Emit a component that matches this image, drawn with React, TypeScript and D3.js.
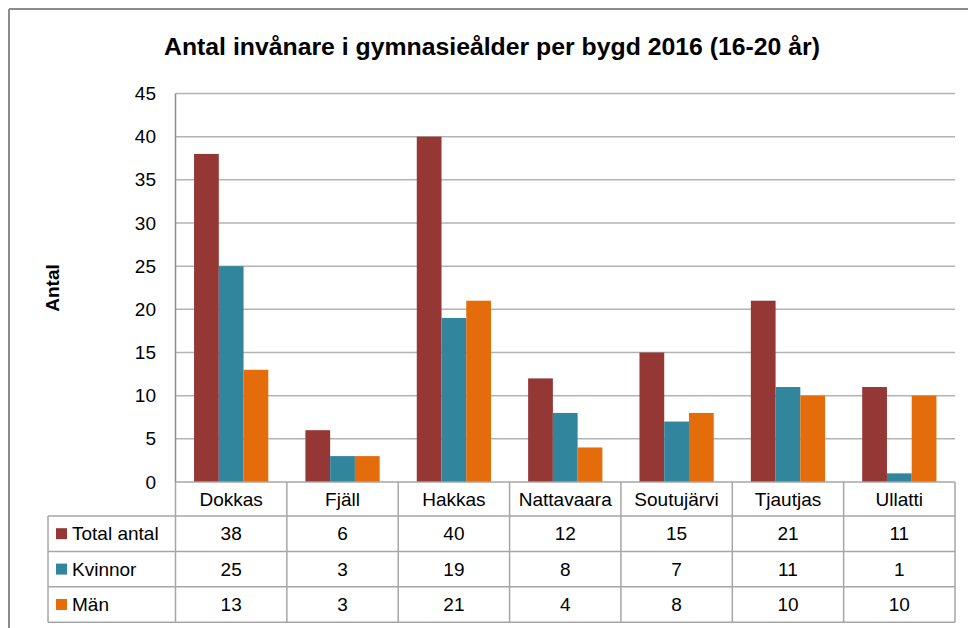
import React from "react";
import * as d3 from "d3";

const categories = ["Dokkas", "Fjäll", "Hakkas", "Nattavaara", "Soutujärvi", "Tjautjas", "Ullatti"];
const seriesNames = ["Total antal", "Kvinnor", "Män"];
const totalValues = [38, 6, 40, 12, 15, 21, 11];
const womenValues = [25, 3, 19, 8, 7, 11, 1];
const menValues = [13, 3, 21, 4, 8, 10, 10];
const yTicks = [0, 5, 10, 15, 20, 25, 30, 35, 40, 45];
const colors = ["#953735", "#31859C", "#E46C0A"];

const title = "Antal invånare i gymnasieålder per bygd 2016 (16-20 år)";
const yAxisTitle = "Antal";

export default function App() {
  const W = 968;
  const H = 628;
  const left = 175.5;
  const right = 955;
  const top = 93.5;
  const bottom = 482;
  const rowH = 35.4;
  const tableLeft = 48;
  const catRowBottom = 516;
  const font = "'Liberation Sans', Arial, sans-serif";
  const fs = 19;
  const series = [totalValues, womenValues, menValues];

  const x = d3.scaleBand<string>().domain(categories).range([left, right]).paddingInner(0).paddingOuter(0);
  const bw = x.bandwidth();
  const inner = d3
    .scaleBand<number>()
    .domain([0, 1, 2])
    .range([bw / 6, bw - bw / 6])
    .padding(0);
  const y = d3.scaleLinear().domain([0, 45]).range([bottom, top]);

  const rowY = (i: number) => catRowBottom + i * rowH;

  return (
    <svg width={W} height={H} style={{ position: "absolute", left: 0, top: 0, background: "#fff" }}>
      <rect x={0} y={0} width={W} height={H} fill="#fff" />
      {/* outer border */}
      <line x1={9} y1={9} x2={W} y2={9} stroke="#8c8c8c" strokeWidth={2} />
      <line x1={9} y1={9} x2={9} y2={H} stroke="#8c8c8c" strokeWidth={2} />

      <text
        x={164}
        y={55}
        textLength={656}
        lengthAdjust="spacingAndGlyphs"
        fontFamily={font}
        fontWeight="bold"
        fontSize={23}
        fill="#000"
      >
        {title}
      </text>

      {/* gridlines */}
      {yTicks.filter((t) => t > 0).map((t) => (
        <line key={t} x1={left} x2={right} y1={y(t)} y2={y(t)} stroke="#b3b3b3" strokeWidth={1.5} />
      ))}
      {/* y tick labels */}
      {yTicks.map((t) => (
        <text key={"l" + t} x={156} y={y(t)} dy="0.35em" textAnchor="end" fontFamily={font} fontSize={fs} fill="#000">
          {t}
        </text>
      ))}
      <text
        transform={`translate(52,288) rotate(-90)`}
        textAnchor="middle"
        dy="0.35em"
        fontFamily={font}
        fontWeight="bold"
        fontSize={fs}
        fill="#000"
      >
        {yAxisTitle}
      </text>

      {/* bars */}
      {categories.map((c, ci) => (
        <g key={c}>
          {series.map((vals, si) => (
            <rect
              key={si}
              x={(x(c) as number) + (inner(si) as number)}
              y={y(vals[ci])}
              width={inner.bandwidth()}
              height={bottom - y(vals[ci])}
              fill={colors[si]}
            />
          ))}
        </g>
      ))}

      {/* left axis line */}
      <line x1={left} x2={left} y1={top} y2={bottom} stroke="#8c8c8c" strokeWidth={1.5} />

      {/* data table lines */}
      <line x1={left} x2={right} y1={bottom} y2={bottom} stroke="#a6a6a6" strokeWidth={1.5} />
      {[0, 1, 2, 3].map((i) => (
        <line key={"h" + i} x1={tableLeft} x2={right} y1={rowY(i)} y2={rowY(i)} stroke="#a6a6a6" strokeWidth={1.5} />
      ))}
      <line x1={tableLeft} x2={tableLeft} y1={catRowBottom} y2={rowY(3)} stroke="#a6a6a6" strokeWidth={1.5} />
      {categories.map((c) => (
        <line
          key={"v" + c}
          x1={x(c) as number}
          x2={x(c) as number}
          y1={bottom}
          y2={rowY(3)}
          stroke="#a6a6a6"
          strokeWidth={1.5}
        />
      ))}
      <line x1={right} x2={right} y1={bottom} y2={rowY(3)} stroke="#a6a6a6" strokeWidth={1.5} />

      {/* category labels */}
      {categories.map((c) => (
        <text
          key={"c" + c}
          x={(x(c) as number) + bw / 2}
          y={(bottom + catRowBottom) / 2}
          dy="0.35em"
          textAnchor="middle"
          fontFamily={font}
          fontSize={fs}
          fill="#000"
        >
          {c}
        </text>
      ))}

      {/* legend rows + values */}
      {seriesNames.map((name, si) => {
        const cy = rowY(si) + rowH / 2;
        return (
          <g key={name}>
            <rect x={56} y={cy - 5.5} width={11} height={11} fill={colors[si]} />
            <text x={72} y={cy} dy="0.35em" fontFamily={font} fontSize={fs} fill="#000">
              {name}
            </text>
            {categories.map((c, ci) => (
              <text
                key={c}
                x={(x(c) as number) + bw / 2}
                y={cy}
                dy="0.35em"
                textAnchor="middle"
                fontFamily={font}
                fontSize={fs}
                fill="#000"
              >
                {series[si][ci]}
              </text>
            ))}
          </g>
        );
      })}
    </svg>
  );
}
